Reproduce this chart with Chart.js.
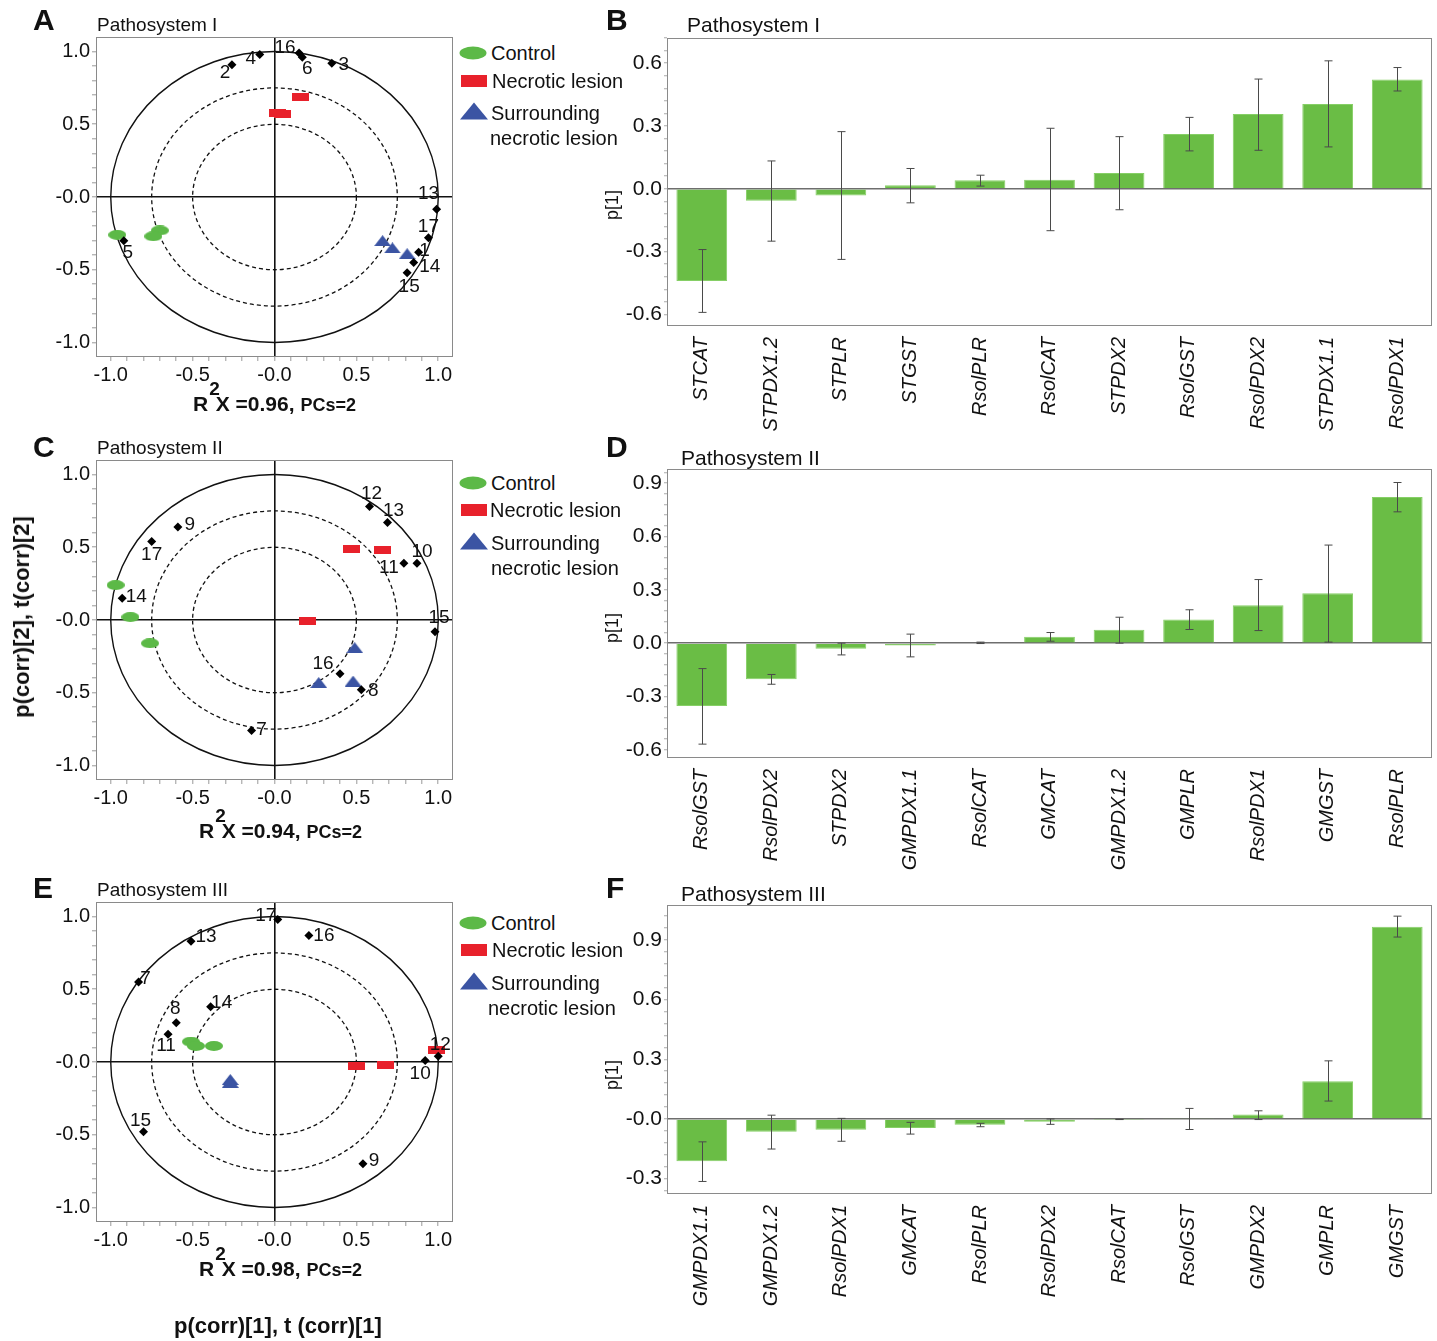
<!DOCTYPE html>
<html lang="en">
<head>
<meta charset="UTF-8" />
<title>OPLS-DA loadings - Pathosystems I-III</title>
<script src="https://cdn.jsdelivr.net/npm/chart.js"></script>
<style>
  body { margin:0; background:#fff; font-family:'Liberation Sans', Arial, sans-serif; color:#111; }
  #page { position:relative; width:1437px; height:1341px; overflow:hidden; }
  canvas { position:absolute; }
  .t { position:absolute; white-space:nowrap; line-height:1; }
  .lc { transform:translateY(-50%); }
  .cc { transform:translate(-50%,-50%); }
  .vert { transform:translate(-50%,-50%) rotate(-90deg); }
  .letter { font-weight:bold; font-size:30px; }
  .title { font-size:19px; }
  .narrow { font-family:'Liberation Sans Narrow','Liberation Sans',Arial,sans-serif; font-size:21px; }
  .leg { font-size:20px; }
  .r2 { font-weight:bold; font-size:21px; }
  .r2 sup { font-size:19px; vertical-align:baseline; position:relative; top:-16px; margin:0 -4px 0 1px; }
  .r2 .small { font-size:18px; }
  .mk { position:absolute; transform:translate(-50%,-50%); }
  .ell { width:27px; height:13px; border-radius:50%; background:#5cb947; }
  .rec { width:26px; height:12px; background:#e8212b; }
  .tri { width:0; height:0; border-left:14px solid transparent; border-right:14px solid transparent; border-bottom:17px solid #3b54a3; }
</style>
</head>
<body>
<div id="page">
  <canvas id="chartA" width="458" height="392" style="left:0px;top:0px"></canvas>
  <canvas id="chartC" width="458" height="392" style="left:0px;top:423px"></canvas>
  <canvas id="chartE" width="458" height="392" style="left:0px;top:865px"></canvas>
  <canvas id="chartB" width="837" height="432" style="left:600px;top:0px"></canvas>
  <canvas id="chartD" width="837" height="435" style="left:600px;top:440px"></canvas>
  <canvas id="chartF" width="837" height="461" style="left:600px;top:880px"></canvas>

  <!-- panel letters and titles -->
  <div class="t letter lc" style="left:33px;top:20px">A</div>
  <div class="t letter lc" style="left:606px;top:20px">B</div>
  <div class="t letter lc" style="left:33px;top:447px">C</div>
  <div class="t letter lc" style="left:606px;top:447px">D</div>
  <div class="t letter lc" style="left:33px;top:888px">E</div>
  <div class="t letter lc" style="left:606px;top:888px">F</div>

  <div class="t title lc" style="left:97px;top:24px">Pathosystem I</div>
  <div class="t title lc" style="left:97px;top:447px">Pathosystem II</div>
  <div class="t title lc" style="left:97px;top:889px">Pathosystem III</div>
  <div class="t narrow lc" style="left:687px;top:24px">Pathosystem I</div>
  <div class="t narrow lc" style="left:681px;top:457px">Pathosystem II</div>
  <div class="t narrow lc" style="left:681px;top:893px">Pathosystem III</div>

  <!-- legends -->
  <div class="mk ell" style="left:473px;top:53px"></div>
  <div class="t leg lc" style="left:491px;top:53px">Control</div>
  <div class="mk rec" style="left:474px;top:81px"></div>
  <div class="t leg lc" style="left:492px;top:81px">Necrotic lesion</div>
  <div class="mk tri" style="left:474px;top:111px"></div>
  <div class="t leg lc" style="left:491px;top:113px">Surrounding</div>
  <div class="t leg lc" style="left:490px;top:138px">necrotic lesion</div>

  <div class="mk ell" style="left:473px;top:483px"></div>
  <div class="t leg lc" style="left:491px;top:483px">Control</div>
  <div class="mk rec" style="left:474px;top:510px"></div>
  <div class="t leg lc" style="left:490px;top:510px">Necrotic lesion</div>
  <div class="mk tri" style="left:474px;top:541px"></div>
  <div class="t leg lc" style="left:491px;top:543px">Surrounding</div>
  <div class="t leg lc" style="left:491px;top:568px">necrotic lesion</div>

  <div class="mk ell" style="left:473px;top:923px"></div>
  <div class="t leg lc" style="left:491px;top:923px">Control</div>
  <div class="mk rec" style="left:474px;top:950px"></div>
  <div class="t leg lc" style="left:492px;top:950px">Necrotic lesion</div>
  <div class="mk tri" style="left:474px;top:981px"></div>
  <div class="t leg lc" style="left:491px;top:983px">Surrounding</div>
  <div class="t leg lc" style="left:488px;top:1008px">necrotic lesion</div>

  <!-- axis texts -->
  <div class="t r2 lc" style="left:193px;top:403px">R<sup>2</sup>X =0.96, <span class="small">PCs=2</span></div>
  <div class="t r2 lc" style="left:199px;top:830px">R<sup>2</sup>X =0.94, <span class="small">PCs=2</span></div>
  <div class="t r2 lc" style="left:199px;top:1268px">R<sup>2</sup>X =0.98, <span class="small">PCs=2</span></div>
  <div class="t r2 cc" style="left:278px;top:1326px;font-size:22px">p(corr)[1], t (corr)[1]</div>
  <div class="t r2 vert" style="left:22px;top:617px;font-size:22px">p(corr)[2], t(corr)[2]</div>
  <div class="t vert" style="left:612px;top:205px;font-size:18px">p[1]</div>
  <div class="t vert" style="left:612px;top:628px;font-size:18px">p[1]</div>
  <div class="t vert" style="left:612px;top:1075px;font-size:18px">p[1]</div>
</div>

<script>
// ---------- Panel A: Pathosystem I (loadings = black diamonds, scores = groups)
const aLoadNames = ['2', '4', '16', '6', '3', '13', '17', '1', '14', '15', '5'];
const aLoadX = [-0.26, -0.09, 0.15, 0.17, 0.35, 0.99, 0.94, 0.88, 0.85, 0.81, -0.92];
const aLoadY = [0.91, 0.98, 0.99, 0.96, 0.92, -0.085, -0.28, -0.38, -0.45, -0.52, -0.30];
const aControlX = [-0.96, -0.70, -0.74];
const aControlY = [-0.26, -0.23, -0.27];
const aNecroticX = [0.16, 0.02, 0.05];
const aNecroticY = [0.69, 0.58, 0.57];
const aSurroundX = [0.66, 0.72, 0.81];
const aSurroundY = [-0.30, -0.35, -0.39];
const aLabelOffset = [[-7, 8], [-9, 4], [-14, -5], [5, 11], [12, 2], [-8, -16], [0, -11], [6, -2], [16, 4], [2, 14], [4, 12]];

// ---------- Panel C: Pathosystem II
const cLoadNames = ['12', '13', '9', '17', '11', '10', '14', '15', '16', '8', '7'];
const cLoadX = [0.58, 0.69, -0.59, -0.75, 0.79, 0.87, -0.93, 0.98, 0.40, 0.53, -0.14];
const cLoadY = [0.78, 0.67, 0.64, 0.54, 0.39, 0.39, 0.15, -0.08, -0.37, -0.48, -0.76];
const cControlX = [-0.97, -0.88, -0.76];
const cControlY = [0.24, 0.02, -0.16];
const cNecroticX = [0.47, 0.66, 0.20];
const cNecroticY = [0.49, 0.48, -0.01];
const cSurroundX = [0.49, 0.27, 0.48];
const cSurroundY = [-0.19, -0.43, -0.42];
const cLabelOffset = [[2, -13], [6, -12], [12, -2], [0, 13], [-15, 4], [5, -12], [14, -1], [4, -14], [-17, -10], [12, 1], [10, -1]];

// ---------- Panel E: Pathosystem III
const eLoadNames = ['17', '16', '13', '7', '14', '8', '11', '12', '10', '15', '9'];
const eLoadX = [0.02, 0.21, -0.51, -0.83, -0.39, -0.60, -0.65, 1.00, 0.92, -0.80, 0.54];
const eLoadY = [0.98, 0.87, 0.83, 0.55, 0.38, 0.27, 0.19, 0.04, 0.01, -0.48, -0.70];
const eControlX = [-0.51, -0.48, -0.37];
const eControlY = [0.14, 0.11, 0.11];
const eNecroticX = [0.50, 0.68, 0.99];
const eNecroticY = [-0.03, -0.02, 0.08];
const eSurroundX = [-0.27, -0.27];
const eSurroundY = [-0.12, -0.14];
const eLabelOffset = [[-12, -4], [15, 0], [15, -5], [7, -3], [11, -4], [-1, -14], [-2, 11], [2, -11], [-5, 13], [-3, -11], [11, -3]];

// circles of the loading plots (solid = 1, dashed = 0.75 and 0.5)
const circleRadii = [1, 0.75, 0.5];
const scatterTickValues = [-1, -0.5, 0, 0.5, 1];
const scatterTickLabels = ['-1.0', '-0.5', '-0.0', '0.5', '1.0'];

// ---------- Panel B: Pathosystem I, p[1]
const bGenes = ['STCAT', 'STPDX1.2', 'STPLR', 'STGST', 'RsolPLR', 'RsolCAT', 'STPDX2', 'RsolGST', 'RsolPDX2', 'STPDX1.1', 'RsolPDX1'];
const bValues = [-0.44, -0.057, -0.032, 0.017, 0.041, 0.043, 0.076, 0.262, 0.357, 0.405, 0.522];
const bErrHigh = [-0.29, 0.133, 0.273, 0.097, 0.065, 0.289, 0.249, 0.341, 0.524, 0.611, 0.579];
const bErrLow = [-0.59, -0.25, -0.337, -0.067, 0.013, -0.20, -0.10, 0.181, 0.184, 0.20, 0.467];
const bTickValues = [-0.6, -0.3, 0, 0.3, 0.6];
const bTickLabels = ['-0.6', '-0.3', '0.0', '0.3', '0.6'];

// ---------- Panel D: Pathosystem II, p[1]
const dGenes = ['RsolGST', 'RsolPDX2', 'STPDX2', 'GMPDX1.1', 'RsolCAT', 'GMCAT', 'GMPDX1.2', 'GMPLR', 'RsolPDX1', 'GMGST', 'RsolPLR'];
const dValues = [-0.353, -0.203, -0.032, -0.013, 0.004, 0.036, 0.075, 0.133, 0.214, 0.281, 0.822];
const dErrHigh = [-0.143, -0.176, 0.0, 0.051, 0.006, 0.06, 0.146, 0.188, 0.358, 0.552, 0.904];
const dErrLow = [-0.568, -0.231, -0.066, -0.077, -0.002, 0.011, 0.0, 0.077, 0.071, 0.006, 0.739];
const dTickValues = [-0.6, -0.3, 0, 0.3, 0.6, 0.9];
const dTickLabels = ['-0.6', '-0.3', '0.0', '0.3', '0.6', '0.9'];

// ---------- Panel F: Pathosystem III, p[1]
const fGenes = ['GMPDX1.1', 'GMPDX1.2', 'RsolPDX1', 'GMCAT', 'RsolPLR', 'RsolPDX2', 'RsolCAT', 'RsolGST', 'GMPDX2', 'GMPLR', 'GMGST'];
const fValues = [-0.212, -0.064, -0.054, -0.046, -0.029, -0.014, -0.002, 0.002, 0.022, 0.19, 0.966];
const fErrHigh = [-0.115, 0.019, 0.003, -0.017, -0.022, 0.0, -0.001, 0.053, 0.041, 0.292, 1.019];
const fErrLow = [-0.314, -0.151, -0.112, -0.076, -0.039, -0.027, -0.003, -0.053, -0.003, 0.09, 0.914];
const fTickValues = [-0.3, 0, 0.3, 0.6, 0.9];
const fTickLabels = ['-0.3', '-0.0', '0.3', '0.6', '0.9'];

const GREEN = '#5cb947';
const RED = '#e8212b';
const BLUE = '#3b54a3';
const BAR_GREEN = '#6abd45';
const FONT = "'Liberation Sans', Arial, sans-serif";

Chart.defaults.animation = false;
Chart.defaults.plugins.tooltip.enabled = false;
Chart.defaults.plugins.legend.display = false;

function pts(xs, ys) {
  return xs.map((x, i) => ({ x: x, y: ys[i] }));
}

// small marker images for the score groups
function marker(w, h, color, shape) {
  const c = document.createElement('canvas');
  c.width = w; c.height = h;
  const g = c.getContext('2d');
  g.fillStyle = color;
  g.beginPath();
  if (shape === 'ellipse') g.ellipse(w / 2, h / 2, w / 2, h / 2, 0, 0, Math.PI * 2);
  else if (shape === 'rect') g.rect(0, 0, w, h);
  else { g.moveTo(w / 2, 0); g.lineTo(w, h); g.lineTo(0, h); g.closePath(); }
  g.fill();
  return c;
}
const ellImg = marker(18, 10, GREEN, 'ellipse');
const recImg = marker(17, 8, RED, 'rect');
const triImg = marker(17, 11, BLUE, 'tri');

const framePlugin = {
  id: 'frame',
  beforeDatasetsDraw(chart) {
    const a = chart.chartArea, ctx = chart.ctx;
    ctx.save();
    ctx.strokeStyle = '#8a8a8a';
    ctx.lineWidth = 1;
    ctx.strokeRect(a.left + 0.5, a.top + 0.5, a.right - a.left - 1, a.bottom - a.top - 1);
    ctx.restore();
  }
};

const circlePlugin = {
  id: 'circles',
  beforeDatasetsDraw(chart) {
    const xs = chart.scales.x, ys = chart.scales.y, ctx = chart.ctx;
    const cx = xs.getPixelForValue(0), cy = ys.getPixelForValue(0);
    ctx.save();
    ctx.strokeStyle = '#111';
    circleRadii.forEach((r, i) => {
      ctx.lineWidth = i === 0 ? 1.4 : 1.3;
      ctx.setLineDash(i === 0 ? [] : [4, 3]);
      ctx.beginPath();
      ctx.ellipse(cx, cy, xs.getPixelForValue(r) - cx, cy - ys.getPixelForValue(r), 0, 0, Math.PI * 2);
      ctx.stroke();
    });
    ctx.restore();
  }
};

function pointLabels(names, offsets) {
  return {
    id: 'pointLabels',
    afterDatasetsDraw(chart) {
      const meta = chart.getDatasetMeta(0), ctx = chart.ctx;
      ctx.save();
      ctx.font = '19px ' + FONT;
      ctx.fillStyle = '#111';
      ctx.textAlign = 'center';
      ctx.textBaseline = 'middle';
      meta.data.forEach((p, i) => {
        ctx.fillText(names[i], p.x + offsets[i][0], p.y + offsets[i][1]);
      });
      ctx.restore();
    }
  };
}

function errorBars(lo, hi) {
  return {
    id: 'errorBars',
    afterDatasetsDraw(chart) {
      const meta = chart.getDatasetMeta(0), ys = chart.scales.y, ctx = chart.ctx;
      ctx.save();
      ctx.strokeStyle = '#4a4a4a';
      ctx.lineWidth = 1;
      meta.data.forEach((bar, i) => {
        const x = Math.round(bar.x) + 0.5;
        const y1 = ys.getPixelForValue(hi[i]), y2 = ys.getPixelForValue(lo[i]);
        ctx.beginPath();
        ctx.moveTo(x, y1); ctx.lineTo(x, y2);
        ctx.moveTo(x - 4, y1); ctx.lineTo(x + 4, y1);
        ctx.moveTo(x - 4, y2); ctx.lineTo(x + 4, y2);
        ctx.stroke();
      });
      ctx.restore();
    }
  };
}

function labelFor(v, values, labels) {
  const i = values.findIndex(t => Math.abs(t - v) < 1e-6);
  return i >= 0 ? labels[i] : '';
}

function makeLoadingPlot(id, d) {
  const minor = [];
  for (let i = -10; i <= 10; i++) minor.push(i / 10);
  const zeroGrid = c => (c.tick && Math.abs(c.tick.value) < 1e-9) ? '#111' : 'rgba(0,0,0,0)';
  const axis = (size, isX) => ({
    type: 'linear',
    min: isX ? -1.09 : -1.10,
    max: isX ? 1.09 : 1.10,
    afterBuildTicks: s => { s.ticks = minor.map(v => ({ value: v })); },
    afterFit: s => { if (isX) s.height = size; else s.width = size; },
    border: { display: false },
    grid: { color: zeroGrid, lineWidth: 1.6, drawTicks: true, tickLength: 4, tickColor: '#999', tickWidth: 1 },
    ticks: {
      autoSkip: false, maxRotation: 0, padding: 2, color: '#111',
      font: { family: FONT, size: 20 },
      callback: v => labelFor(v, scatterTickValues, scatterTickLabels)
    }
  });
  return new Chart(document.getElementById(id), {
    type: 'scatter',
    data: {
      datasets: [
        { data: pts(d.lx, d.ly), pointStyle: 'rectRot', radius: 4.5, backgroundColor: '#000', borderColor: '#000', borderWidth: 0 },
        { data: pts(d.sx, d.sy), pointStyle: triImg },
        { data: pts(d.nx, d.ny), pointStyle: recImg },
        { data: pts(d.cx, d.cy), pointStyle: ellImg }
      ]
    },
    options: {
      responsive: false,
      layout: { padding: { top: 37, right: 4, left: 0, bottom: 0 } },
      scales: { x: axis(35, true), y: axis(96, false) }
    },
    plugins: [framePlugin, circlePlugin, pointLabels(d.names, d.offsets)]
  });
}

function makeBarPlot(id, genes, values, lo, hi, yMin, yMax, tickVals, tickLabels, padTop, xAxisH) {
  const minor = [];
  for (let i = Math.ceil(yMin / 0.06 - 1e-9); i <= Math.floor(yMax / 0.06 + 1e-9); i++) minor.push(i * 0.06);
  return new Chart(document.getElementById(id), {
    type: 'bar',
    data: {
      labels: genes,
      datasets: [{ data: values, backgroundColor: BAR_GREEN, borderColor: '#86cf66', borderWidth: 1, barPercentage: 0.73, categoryPercentage: 1 }]
    },
    options: {
      responsive: false,
      layout: { padding: { top: padTop, right: 5, left: 0, bottom: 0 } },
      scales: {
        x: {
          afterFit: s => { s.height = xAxisH; },
          border: { display: false },
          grid: { display: false },
          ticks: {
            autoSkip: false, minRotation: 90, maxRotation: 90, padding: 3, color: '#111',
            font: { family: FONT, size: 20, style: 'italic' }
          }
        },
        y: {
          min: yMin, max: yMax,
          afterBuildTicks: s => { s.ticks = minor.map(v => ({ value: v })); },
          afterFit: s => { s.width = 67; },
          border: { display: false },
          grid: {
            color: c => (c.tick && Math.abs(c.tick.value) < 1e-9) ? '#6e6e6e' : 'rgba(0,0,0,0)',
            lineWidth: 1.5, tickLength: 3, tickColor: '#aaa', tickWidth: 1
          },
          ticks: {
            autoSkip: false, padding: 2, color: '#111',
            font: { family: FONT, size: 21 },
            callback: v => labelFor(v, tickVals, tickLabels)
          }
        }
      }
    },
    plugins: [framePlugin, errorBars(lo, hi)]
  });
}

makeLoadingPlot('chartA', { lx: aLoadX, ly: aLoadY, names: aLoadNames, offsets: aLabelOffset, cx: aControlX, cy: aControlY, nx: aNecroticX, ny: aNecroticY, sx: aSurroundX, sy: aSurroundY });
makeLoadingPlot('chartC', { lx: cLoadX, ly: cLoadY, names: cLoadNames, offsets: cLabelOffset, cx: cControlX, cy: cControlY, nx: cNecroticX, ny: cNecroticY, sx: cSurroundX, sy: cSurroundY });
makeLoadingPlot('chartE', { lx: eLoadX, ly: eLoadY, names: eLoadNames, offsets: eLabelOffset, cx: eControlX, cy: eControlY, nx: eNecroticX, ny: eNecroticY, sx: eSurroundX, sy: eSurroundY });

makeBarPlot('chartB', bGenes, bValues, bErrLow, bErrHigh, -0.655, 0.72, bTickValues, bTickLabels, 38, 106);
makeBarPlot('chartD', dGenes, dValues, dErrLow, dErrHigh, -0.646, 0.98, dTickValues, dTickLabels, 29, 117);
makeBarPlot('chartF', fGenes, fValues, fErrLow, fErrHigh, -0.377, 1.075, fTickValues, fTickLabels, 25, 147);
</script>
</body>
</html>
